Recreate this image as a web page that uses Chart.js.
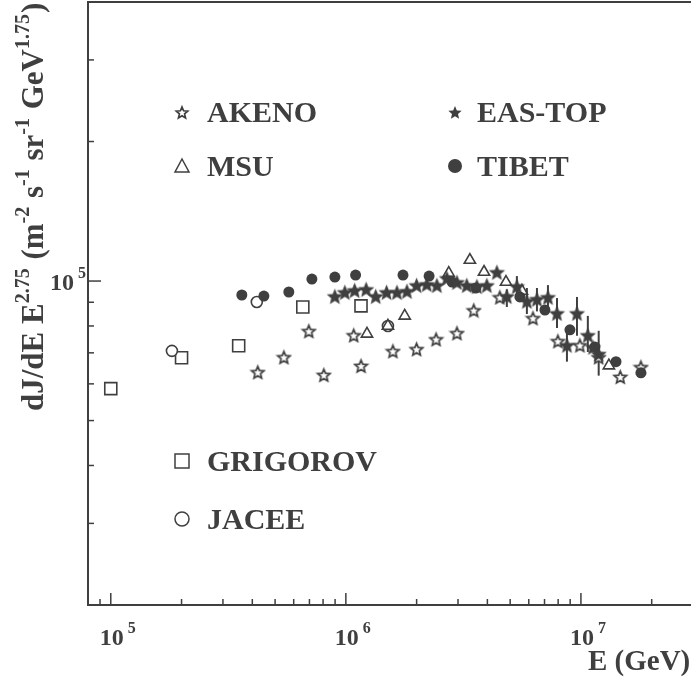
<!DOCTYPE html>
<html>
<head>
<meta charset="utf-8">
<title>All-particle spectrum</title>
<script src="https://cdn.jsdelivr.net/npm/chart.js@4.4.1/dist/chart.umd.min.js"></script>
<style>
  html, body { margin: 0; padding: 0; background: #fff; overflow: hidden; }
  #wrap { width: 691px; height: 677px; overflow: hidden; }
</style>
</head>
<body>
<div id="wrap"><canvas id="spectrum" width="760" height="677"></canvas></div>
<script>
// energy (GeV) and E^2.75-weighted flux for each experiment
const akenoE = [4.22e5, 5.45e5, 6.96e5, 8.06e5, 1.08e6, 1.16e6, 1.585e6, 2.0e6, 2.42e6, 2.97e6, 3.5e6, 4.52e6, 6.25e6, 7.98e6, 9.9e6, 1.19e7, 1.47e7, 1.8e7];
const akenoFlux = [6.37e4, 6.86e4, 7.81e4, 6.28e4, 7.65e4, 6.57e4, 7.07e4, 7.14e4, 7.5e4, 7.73e4, 8.66e4, 9.24e4, 8.33e4, 7.43e4, 7.28e4, 6.86e4, 6.22e4, 6.53e4];

const msuE = [1.23e6, 1.51e6, 1.78e6, 2.74e6, 3.37e6, 3.87e6, 4.8e6, 5.61e6, 1.315e7];
const msuFlux = [7.69e4, 8.0e4, 8.41e4, 1.04e5, 1.11e5, 1.046e5, 9.95e4, 9.52e4, 6.57e4];

const jaceeE = [1.82e5, 4.18e5, 1.51e6];
const jaceeFlux = [7.07e4, 9.01e4, 8.0e4];

const grigorovE = [1.0e5, 2.0e5, 3.5e5, 6.56e5, 1.16e6];
const grigorovFlux = [5.86e4, 6.83e4, 7.25e4, 8.79e4, 8.84e4];

const tibetE = [3.61e5, 4.48e5, 5.72e5, 7.17e5, 8.98e5, 1.10e6, 1.75e6, 2.26e6, 2.83e6, 3.57e6, 5.5e6, 7.03e6, 8.98e6, 1.147e7, 1.41e7, 1.8e7];
const tibetFlux = [9.33e4, 9.28e4, 9.47e4, 1.01e5, 1.02e5, 1.03e5, 1.03e5, 1.025e5, 9.95e4, 9.66e4, 9.24e4, 8.66e4, 7.85e4, 7.21e4, 6.7e4, 6.34e4];

const easTopE = [8.98e5, 9.9e5, 1.09e6, 1.22e6, 1.34e6, 1.49e6, 1.65e6, 1.82e6, 2.0e6, 2.21e6, 2.44e6, 2.69e6, 2.97e6, 3.27e6, 3.61e6, 3.98e6, 4.39e6, 4.84e6, 5.34e6, 5.89e6, 6.5e6, 7.24e6, 7.91e6, 8.72e6, 9.62e6, 1.07e7, 1.125e7, 1.19e7];
const easTopFlux = [9.28e4, 9.47e4, 9.56e4, 9.61e4, 9.28e4, 9.47e4, 9.47e4, 9.52e4, 9.8e4, 9.85e4, 9.8e4, 1.015e5, 9.95e4, 9.8e4, 9.75e4, 9.8e4, 1.046e5, 9.28e4, 9.75e4, 9.06e4, 9.15e4, 9.24e4, 8.53e4, 7.28e4, 8.53e4, 7.65e4, 7.21e4, 6.97e4];

// EAS-TOP error bars (energy, lower, upper)
const easTopErrE = [4.84e6, 5.34e6, 5.89e6, 6.5e6, 7.24e6, 7.91e6, 8.72e6, 9.62e6, 1.07e7, 1.19e7];
const easTopErrLo = [8.79e4, 9.15e4, 8.49e4, 8.6e4, 8.66e4, 7.92e4, 6.7e4, 7.62e4, 7.03e4, 6.25e4];
const easTopErrHi = [9.6e4, 1.025e5, 9.66e4, 9.66e4, 9.8e4, 9.19e4, 7.89e4, 9.24e4, 8.41e4, 7.81e4];

// axis ticks
const xTickExponents = [5, 6, 7];
const xMinorTicks = [9e4, 2e5, 3e5, 4e5, 5e5, 6e5, 7e5, 8e5, 9e5, 2e6, 3e6, 4e6, 5e6, 6e6, 7e6, 8e6, 9e6, 2e7, 3e7];
const yTickExponents = [5];
const yMinorTicks = [3e4, 4e4, 5e4, 6e4, 7e4, 8e4, 9e4, 2e5, 3e5];

const ink = '#3f3f3f';
const serif = '"Liberation Serif", "DejaVu Serif", serif';

function starSprite(radius, filled) {
  const size = Math.ceil(radius * 2 + 4);
  const c = document.createElement('canvas');
  c.width = size; c.height = size;
  const g = c.getContext('2d');
  g.beginPath();
  for (let i = 0; i < 10; i++) {
    const r = i % 2 ? radius * 0.45 : radius;
    const ang = -Math.PI / 2 + i * Math.PI / 5;
    const px = size / 2 + r * Math.cos(ang);
    const py = size / 2 + 1 + r * Math.sin(ang);
    if (i) g.lineTo(px, py); else g.moveTo(px, py);
  }
  g.closePath();
  if (filled) {
    g.fillStyle = ink; g.fill();
  } else {
    g.fillStyle = '#fff'; g.fill();
    g.lineWidth = 1.7; g.strokeStyle = ink; g.stroke();
  }
  return c;
}

const openStar = starSprite(6.5, false);
const fullStar = starSprite(8.5, true);
const openStarSmall = starSprite(6, false);
const fullStarSmall = starSprite(7, true);

const pts = (xs, ys) => xs.map((v, i) => ({x: v, y: ys[i]}));

function line(ctx, x1, y1, x2, y2) {
  ctx.beginPath(); ctx.moveTo(x1, y1); ctx.lineTo(x2, y2); ctx.stroke();
}

// "10" with a raised exponent
function power(ctx, x, y, exp, size, align) {
  ctx.font = `bold ${size}px ${serif}`;
  const w = ctx.measureText('10').width;
  const x0 = align === 'right' ? x - w : x;
  ctx.fillText('10', x0, y);
  ctx.font = `bold ${Math.round(size * 0.68)}px ${serif}`;
  ctx.fillText(String(exp), x0 + w + 4, y - size * 0.5);
}

const frame = {
  id: 'frame',
  beforeDatasetsDraw(chart) {
    const {ctx, chartArea: a, scales: {x, y}} = chart;
    ctx.save();
    ctx.strokeStyle = ink;
    ctx.lineWidth = 2;
    ctx.strokeRect(a.left, a.top, a.right - a.left, a.bottom - a.top);

    ctx.lineWidth = 1.5;
    xMinorTicks.forEach(v => { const p = x.getPixelForValue(v); line(ctx, p, a.bottom, p, a.bottom - 6); });
    xTickExponents.forEach(e => { const p = x.getPixelForValue(10 ** e); line(ctx, p, a.bottom, p, a.bottom - 12); });
    yMinorTicks.forEach(v => { const p = y.getPixelForValue(v); line(ctx, a.left, p, a.left + 6, p); });
    yTickExponents.forEach(e => { const p = y.getPixelForValue(10 ** e); line(ctx, a.left, p, a.left + 13, p); });

    // error bars
    ctx.lineWidth = 2;
    easTopErrE.forEach((v, i) => {
      const p = x.getPixelForValue(v);
      line(ctx, p, y.getPixelForValue(easTopErrHi[i]), p, y.getPixelForValue(easTopErrLo[i]));
    });
    ctx.restore();
  },
  afterDraw(chart) {
    const {ctx, chartArea: a, scales: {x, y}} = chart;
    ctx.save();
    ctx.fillStyle = ink;
    ctx.strokeStyle = ink;
    ctx.textBaseline = 'alphabetic';

    xTickExponents.forEach(e => power(ctx, x.getPixelForValue(10 ** e) - 11, a.bottom + 40, e, 24));
    yTickExponents.forEach(e => power(ctx, a.left - 14, y.getPixelForValue(10 ** e) + 9, e, 24, 'right'));

    ctx.font = `bold 29px ${serif}`;
    ctx.fillText('E (GeV)', 588, 670);

    // rotated y title with superscripts
    const parts = [['dJ/dE E', 0], ['2.75', 1], [' (m', 0], ['-2', 1], [' s', 0], ['-1', 1], [' sr', 0], ['-1', 1], [' GeV', 0], ['1.75', 1], [')', 0]];
    ctx.save();
    ctx.translate(43, 411);
    ctx.rotate(-Math.PI / 2);
    let u = 0;
    parts.forEach(([t, sup]) => {
      ctx.font = sup ? `bold 20px ${serif}` : `bold 31px ${serif}`;
      ctx.fillText(t, u, sup ? -14 : 0);
      u += ctx.measureText(t).width + (sup ? 1 : 0);
    });
    ctx.restore();

    // legend
    ctx.font = `bold 30px ${serif}`;
    const label = (t, lx, cy) => ctx.fillText(t, lx, cy + 10);
    ctx.drawImage(openStarSmall, 182 - openStarSmall.width / 2, 112 - openStarSmall.height / 2);
    label('AKENO', 207, 112);
    ctx.drawImage(fullStarSmall, 455 - fullStarSmall.width / 2, 112 - fullStarSmall.height / 2);
    label('EAS-TOP', 477, 112);

    ctx.lineWidth = 1.5;
    ctx.beginPath();
    ctx.moveTo(182, 159); ctx.lineTo(189, 172); ctx.lineTo(175, 172); ctx.closePath();
    ctx.stroke();
    label('MSU', 207, 166);
    ctx.beginPath(); ctx.arc(455, 166, 7, 0, Math.PI * 2); ctx.fill();
    label('TIBET', 477, 166);

    ctx.strokeRect(175, 454, 14, 14);
    label('GRIGOROV', 207, 461);
    ctx.beginPath(); ctx.arc(182, 519, 7, 0, Math.PI * 2); ctx.stroke();
    label('JACEE', 207, 519);
    ctx.restore();
  }
};

const ctx = document.getElementById('spectrum');

new Chart(ctx, {
  type: 'scatter',
  data: {
    datasets: [
      {label: 'EAS-TOP', data: pts(easTopE, easTopFlux), pointStyle: fullStar},
      {label: 'TIBET', data: pts(tibetE, tibetFlux), pointStyle: 'circle', pointRadius: 5.5,
        backgroundColor: ink, borderColor: ink, borderWidth: 0},
      {label: 'AKENO', data: pts(akenoE, akenoFlux), pointStyle: openStar},
      {label: 'MSU', data: pts(msuE, msuFlux), pointStyle: 'triangle', pointRadius: 6.5,
        backgroundColor: 'rgba(255,255,255,0)', borderColor: ink, borderWidth: 1.6},
      {label: 'JACEE', data: pts(jaceeE, jaceeFlux), pointStyle: 'circle', pointRadius: 5.5,
        backgroundColor: '#fff', borderColor: ink, borderWidth: 1.6},
      {label: 'GRIGOROV', data: pts(grigorovE, grigorovFlux), pointStyle: 'rect', pointRadius: 8.5,
        backgroundColor: '#fff', borderColor: ink, borderWidth: 1.6}
    ]
  },
  options: {
    responsive: false,
    animation: false,
    layout: {autoPadding: false, padding: {left: 88, top: 2, right: 20, bottom: 72}},
    scales: {
      x: {type: 'logarithmic', min: 8e4, max: 4.75e7, display: false},
      y: {type: 'logarithmic', min: 2e4, max: 4e5, display: false}
    },
    plugins: {
      legend: {display: false},
      tooltip: {enabled: false}
    }
  },
  plugins: [frame]
});
</script>
</body>
</html>
